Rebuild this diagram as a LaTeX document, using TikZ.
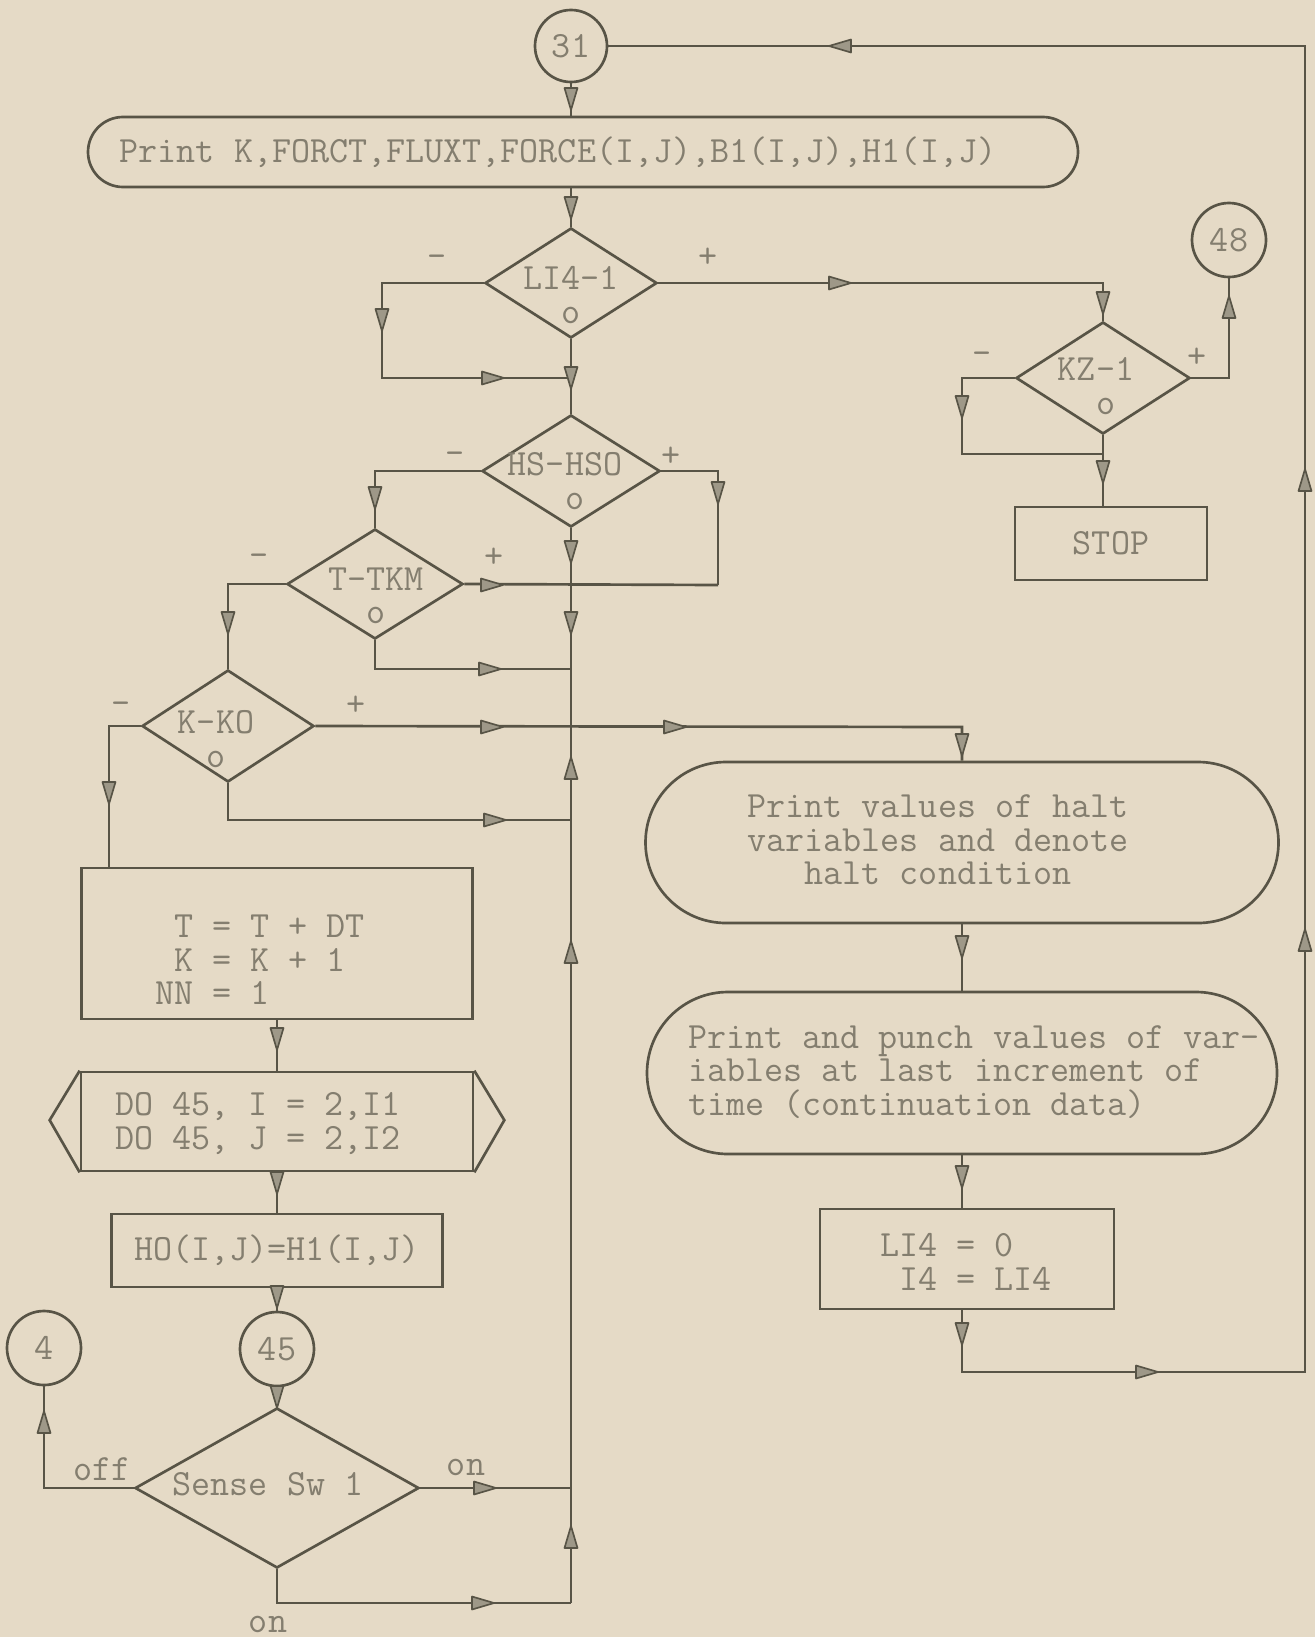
\documentclass[tikz,border=0pt]{standalone}
\usetikzlibrary{shapes.geometric,shapes.misc}
\definecolor{paper}{RGB}{229,218,198}
\definecolor{ink}{RGB}{88,84,70}
\definecolor{typeink}{RGB}{132,126,111}
\definecolor{tipfill}{RGB}{158,152,136}
\tikzset{
  line/.style={draw=ink,line width=0.8pt},
  txt/.style={font=\fontsize{11.1pt}{10pt}\selectfont\ttfamily,text=typeink,inner sep=0pt},
  dlab/.style={txt,align=center},
  procbox/.style={line,rectangle,inner sep=0pt},
  termbox/.style={line,rounded rectangle,inner sep=0pt},
  decision/.style={line,diamond,inner sep=0pt},
  joint/.style={line,circle,txt,minimum size=22.2pt},
  pics/ftip/.style={code={\filldraw[fill=tipfill,draw=ink,line width=0.5pt,line join=round] (-11,-6.5)--(11,0)--(-11,6.5)--cycle;}}
}
\begin{document}
\begin{tikzpicture}[x=0.3pt,y=-0.3pt]
\fill[paper] (0,0) rectangle (1315,1637);
\useasboundingbox (0,0) rectangle (1315,1637);

% ---- blocks ----
\node[joint,minimum size=21.6pt] (c31) at (571,46) {31};
\node[termbox,minimum width=297pt,minimum height=21pt] (pk) at (583,152) {};
\node[txt] (pkt) at (558,152) {Print K,FORCT,FLUXT,FORCE(I,J),B1(I,J),H1(I,J)};

\node[decision,minimum width=51.6pt,minimum height=33pt] (d1) at (571,283) {};
\node[dlab] (d1t) at (571,295) {LI4-1\\o};

\node[decision,minimum width=53.4pt,minimum height=33.6pt] (d2) at (571,471) {};
\node[dlab] (d2t) at (565,481) {HS-HSO\\\hphantom{O}o};

\node[decision,minimum width=52.8pt,minimum height=33pt] (d3) at (375,584) {};
\node[dlab] (d3t) at (376,596) {T-TKM\\o};

\node[decision,minimum width=51.6pt,minimum height=33.6pt] (d4) at (228,726) {};
\node[dlab] (d4t) at (216,739) {K-KO\\o};

\node[decision,minimum width=52.2pt,minimum height=33.6pt] (kz) at (1103,378) {};
\node[dlab] (kzt) at (1096,386) {KZ-1\\\hphantom{K}o};

\node[joint] (c48) at (1229,240) {48};
\node[procbox,txt,minimum width=57.6pt,minimum height=21.9pt] (stop) at (1111,543.5) {STOP};

\node[procbox,minimum width=117.3pt,minimum height=45.3pt] (b1) at (277,943.5) {};
\node[txt,align=left] (b1t) at (260,960) {\hphantom{N}T = T + DT\\\hphantom{N}K = K + 1\\NN = 1};

\node[procbox,minimum width=117.6pt,minimum height=29.7pt] (dobox) at (277,1121.5) {};
\draw[line] (dobox.north west) -- ++(-30,49.5) -- (dobox.south west);
\draw[line] (dobox.north east) -- ++(30,49.5) -- (dobox.south east);
\node[txt,align=left] (dot) at (258,1123.5) {DO 45, I = 2,I1\\DO 45, J = 2,I2};

\node[procbox,txt,minimum width=99.3pt,minimum height=21.9pt] (ho) at (277,1250.5) {HO(I,J)=H1(I,J)};
\node[joint] (c45) at (277,1349) {45};
\node[joint] (c4) at (44,1348) {4};

\node[decision,minimum width=85.2pt,minimum height=48pt] (sw) at (277,1488) {};
\node[txt] (swt) at (268,1484) {Sense Sw 1};

\node[termbox,minimum width=189.9pt,minimum height=48.3pt] (halt) at (962,842.5) {};
\node[txt,align=center] (haltt) at (938,840) {Print values of halt\\variables and denote\\halt condition};

\node[termbox,minimum width=189pt,minimum height=48.6pt] (punch) at (962,1073) {};
\node[txt,align=left] (puncht) at (974,1072) {Print and punch values of var-\\iables at last increment of\\time (continuation data)};

\node[procbox,minimum width=88.2pt,minimum height=30pt] (li4) at (967,1259) {};
\node[txt,align=left] (li4t) at (966,1262) {LI4 = 0\\\hphantom{L}I4 = LI4};

% ---- branch labels ----
\node[txt] (l1m) at (437,261) {-};
\node[txt] (l1p) at (708,258) {+};
\node[txt] (l2m) at (455,458) {-};
\node[txt] (l2p) at (671,457) {+};
\node[txt] (l3m) at (259,560) {-};
\node[txt] (l3p) at (494,558) {+};
\node[txt] (l4m) at (121,708) {-};
\node[txt] (l4p) at (356,706) {+};
\node[txt] (lkm) at (982,358) {-};
\node[txt] (lkp) at (1197,358) {+};
\node[txt] (loff) at (102,1469) {off};
\node[txt] (lon1) at (466,1467) {on};
\node[txt] (lon2) at (268,1624) {on};

% ---- junction points ----
\coordinate (j1l) at (382,283);
\coordinate (j1b) at (382,378);
\coordinate (j1m) at (571,378);
\coordinate (j1r) at (1103,283);
\coordinate (j48) at (1229,378);
\coordinate (jkl) at (962,378);
\coordinate (jklb) at (962,454);
\coordinate (jkm) at (1103,454);
\coordinate (j2l) at (375,471);
\coordinate (j2r) at (718,471);
\coordinate (j2rb) at (718,585);
\coordinate (j3l) at (228,584);
\coordinate (j3b) at (375,669);
\coordinate (j3m) at (571,669);
\coordinate (j4r) at (962,727);
\coordinate (j4b) at (228,820);
\coordinate (j4m) at (571,820);
\coordinate (j4l) at (109,726);
\coordinate (jm) at (571,1603);
\coordinate (swb) at (277,1603);
\coordinate (swr) at (571,1488);
\coordinate (swl) at (44,1488);
\coordinate (lb) at (962,1372);
\coordinate (lr) at (1305,1372);
\coordinate (lt) at (1305,46);

% ---- connectors ----
\draw[line] (c31.south) -- (c31.south |- pk.north);
\draw[line] (c31.south |- pk.south) -- (d1.north);
\draw[line] (d1.west) -- (j1l) -- (j1b) -- (j1m);
\draw[line] (d1.south) -- (d2.north);
\draw[line] (d1.east) -- (j1r) -- (kz.north);
\draw[line] (kz.east) -- (j48) -- (c48.south);
\draw[line] (kz.west) -- (jkl) -- (jklb) -- (jkm);
\draw[line] (kz.south) -- (kz.south |- stop.north);
\draw[line] (d2.west) -- (j2l) -- (d3.north);
\draw[line] (d2.east) -- (j2r) -- (j2rb);
\draw[line] (d3.east) -- (j2rb);
\draw[line] (d2.south) -- (jm);
\draw[line] (d3.west) -- (j3l) -- (d4.north);
\draw[line] (d3.south) -- (j3b) -- (j3m);
\draw[line] (d4.east) -- (j4r) -- (halt.north);
\draw[line] (d4.south) -- (j4b) -- (j4m);
\draw[line] (d4.west) -- (j4l) -- (j4l |- b1.north);
\draw[line] (b1.south) -- (dobox.north);
\draw[line] (dobox.south) -- (ho.north);
\draw[line] (ho.south) -- (c45.north);
\draw[line] (c45.south) -- (sw.north);
\draw[line] (sw.west) -- (swl) -- (c4.south);
\draw[line] (sw.east) -- (swr);
\draw[line] (sw.south) -- (swb) -- (jm);
\draw[line] (halt.south) -- (punch.north);
\draw[line] (punch.south) -- (punch.south |- li4.north);
\draw[line] (punch.south |- li4.south) -- (lb) -- (lr) -- (lt) -- (c31.east);

% ---- flow direction marks ----
\foreach \p in {(571,99),(571,208),(382,320),(571,378),(1103,303),(962,407),(1103,472),
                (375,498),(718,493),(571,552),(571,623),(228,623),(962,745),(109,793),
                (277,1039),(277,1183),(277,1297),(277,1397),(962,947),(962,1177),(962,1334)}
  \pic[rotate=-90] at \p {ftip};
\foreach \p in {(493,378),(840,283),(492,585),(490,669),(492,727),(675,727),(495,820),
                (485,1488),(483,1603),(1147,1372)}
  \pic at \p {ftip};
\foreach \p in {(1229,307),(571,768),(571,952),(571,1537),(44,1422),(1305,480),(1305,940)}
  \pic[rotate=90] at \p {ftip};
\pic[rotate=180] at (840,46) {ftip};
\end{tikzpicture}
\end{document}
